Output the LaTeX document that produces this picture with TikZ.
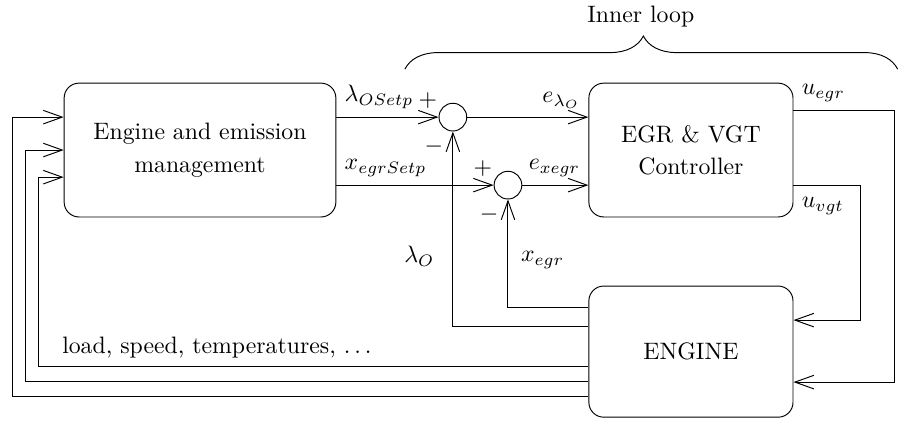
\documentclass[tikz,border=0pt]{standalone}
\usetikzlibrary{arrows.meta,decorations.pathreplacing,calc}

\begin{document}
\begin{tikzpicture}[>={Straight Barb[length=2.8mm,width=2mm]},
        block/.style={draw, rounded corners=0.22cm, align=center,
        minimum width=3.02cm, minimum height=1.98cm},
        sumnode/.style={draw, circle, minimum size=0.41cm, inner sep=0pt}]
        \useasboundingbox (0, 0) rectangle (13.30, 6.26);
        \node[block, minimum width=4.02cm] (mgmt) at (2.959, 4.04)
        {Engine and emission\\[1.6pt]management};
        \node[block] (ctrl) at (10.222, 4.04) {EGR \& VGT\\[1.6pt]Controller};
        \node[block, minimum height=1.94cm] (engine) at (10.222, 1.058) {ENGINE};
        \node[sumnode] (sum1) at (6.70, 4.527) {};
        \node[sumnode] (sum2) at (7.515, 3.521) {};
        \node (plus1) at ($(sum1)+(-0.37, 0.25)$) {$+$};
        \node (minus1) at ($(sum1.south)+(-0.28, -0.22)$) {$-$};
        \node (plus2) at ($(sum2)+(-0.37, 0.25)$) {$+$};
        \node (minus2) at ($(sum2.south)+(-0.28, -0.22)$) {$-$};
        % ports
        \coordinate (in1) at ([yshift=0.487cm]mgmt.west);
        \coordinate (in2) at (mgmt.west);
        \coordinate (in3) at ([yshift=-0.401cm]mgmt.west);
        \coordinate (eo1) at ([yshift=-0.659cm]engine.west);
        \coordinate (eo2) at ([yshift=-0.437cm]engine.west);
        \coordinate (eo3) at ([yshift=-0.215cm]engine.west);
        \coordinate (eolam) at ([yshift=0.377cm]engine.west);
        \coordinate (eoxegr) at ([yshift=0.658cm]engine.west);
        \coordinate (cout1) at ([yshift=0.59cm]ctrl.east);
        \coordinate (cout2) at ([yshift=-0.519cm]ctrl.east);
        \coordinate (ein1) at ([yshift=-0.451cm]engine.east);
        \coordinate (ein2) at ([yshift=0.466cm]engine.east);
        \coordinate (xegr) at (13.24, 0);
        \coordinate (xvgt) at (12.737, 0);
        \coordinate (xo1) at (0.178, 0);
        \coordinate (xo2) at (0.370, 0);
        \coordinate (xo3) at (0.562, 0);
        % setpoints and errors
        \draw[->] (sum1 -| mgmt.east) -- node[pos=0, above right]
        {$\lambda_{OSetp}$} (sum1.west);
        \draw[->] (sum2 -| mgmt.east) -- node[pos=0, above right]
        {$x_{egrSetp}$} (sum2.west);
        \draw[->] (sum1.east) -- node[pos=1, above left]
        {$e_{\lambda_O}$} (sum1 -| ctrl.west);
        \draw[->] (sum2.east) -- node[pos=1, above left]
        {$e_{xegr}$} (sum2 -| ctrl.west);
        % inner feedback
        \draw[->] (eolam) -| node[pos=0.68, left=0.15cm] {$\lambda_O$}
        (sum1.south);
        \draw[->] (eoxegr) -| node[pos=0.72, right=0.07cm] {$x_{egr}$}
        (sum2.south);
        % actuators
        \draw[->] (cout1) -- node[pos=0, above right] {$u_{egr}$}
        (cout1 -| xegr) |- (ein1);
        \draw[->] (cout2) -- node[pos=0, below right, yshift=-0.06cm]
        {$u_{vgt}$} (cout2 -| xvgt) |- (ein2);
        % outer feedback
        \draw[->] (eo1) -- (eo1 -| xo1) |- (in1);
        \draw[->] (eo2) -- (eo2 -| xo2) |- (in2);
        \draw[->] (eo3) -- node[pos=0.675, above]
        {load, speed, temperatures, $\ldots$} (eo3 -| xo3) |- (in3);
        \draw[decorate, decoration={brace, amplitude=0.49cm, aspect=0.484}]
        (5.99, 5.237) -- (13.28, 5.237);
        \node (inner) at (9.48, 6.02) {Inner loop};
    \end{tikzpicture}
\end{document}
